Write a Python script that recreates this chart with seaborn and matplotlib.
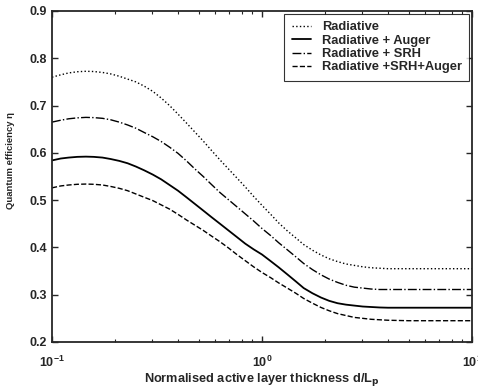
import numpy as np
import pandas as pd
import seaborn as sns
import matplotlib
matplotlib.use("Agg")
import matplotlib.pyplot as plt

# ----- Data (d/Lp on a log axis) -----
thickness = [0.1, 0.11, 0.12, 0.132, 0.145, 0.158, 0.174, 0.19, 0.209, 0.229,
             0.251, 0.275, 0.302, 0.331, 0.363, 0.398, 0.437, 0.479, 0.525, 0.575,
             0.631, 0.692, 0.759, 0.832, 0.912, 1.0, 1.1, 1.2, 1.32, 1.45,
             1.58, 1.74, 1.91, 2.09, 2.29, 2.51, 2.75, 3.02, 3.31, 3.63,
             3.98, 5.0, 6.3, 10.0]

radiative = [0.760, 0.765, 0.769, 0.7715, 0.7725, 0.772, 0.770, 0.767, 0.762, 0.756,
             0.750, 0.741, 0.730, 0.716, 0.700, 0.682, 0.663, 0.644, 0.625, 0.605,
             0.585, 0.566, 0.547, 0.528, 0.508, 0.489, 0.470, 0.452, 0.435, 0.420,
             0.406, 0.394, 0.384, 0.376, 0.370, 0.365, 0.362, 0.359, 0.357, 0.356,
             0.355, 0.355, 0.355, 0.355]

rad_srh = [0.665, 0.669, 0.672, 0.674, 0.675, 0.6745, 0.673, 0.670, 0.665, 0.659,
           0.652, 0.643, 0.634, 0.624, 0.612, 0.599, 0.583, 0.566, 0.550, 0.533,
           0.516, 0.501, 0.486, 0.471, 0.456, 0.440, 0.425, 0.410, 0.395, 0.380,
           0.366, 0.353, 0.342, 0.333, 0.326, 0.320, 0.316, 0.314, 0.312, 0.311,
           0.311, 0.311, 0.311, 0.311]

rad_auger = [0.584, 0.588, 0.590, 0.5915, 0.592, 0.5915, 0.590, 0.587, 0.583, 0.578,
             0.571, 0.563, 0.554, 0.544, 0.532, 0.520, 0.506, 0.492, 0.478, 0.464,
             0.450, 0.436, 0.422, 0.408, 0.396, 0.385, 0.371, 0.358, 0.343, 0.328,
             0.314, 0.303, 0.294, 0.287, 0.282, 0.279, 0.277, 0.275, 0.274, 0.273,
             0.2725, 0.2725, 0.2725, 0.2725]

rad_srh_auger = [0.526, 0.530, 0.532, 0.5335, 0.534, 0.5335, 0.532, 0.529, 0.525, 0.520,
                 0.513, 0.506, 0.499, 0.490, 0.481, 0.470, 0.458, 0.447, 0.436, 0.424,
                 0.412, 0.399, 0.385, 0.372, 0.359, 0.347, 0.336, 0.325, 0.314, 0.303,
                 0.292, 0.282, 0.273, 0.266, 0.260, 0.256, 0.252, 0.250, 0.248, 0.247,
                 0.246, 0.245, 0.245, 0.245]

labels = ["Radiative", "Radiative + Auger", "Radiative + SRH", "Radiative +SRH+Auger"]

# ----- Plot -----
sns.set_style("ticks")
plt.rcParams['font.family'] = ['Liberation Sans', 'DejaVu Sans']
plt.rcParams['font.weight'] = 'bold'
plt.rcParams['mathtext.default'] = 'regular'

fig = plt.figure(figsize=(4.78, 3.87), dpi=100)
ax = fig.add_axes([0.1088, 0.1163, 0.8786, 0.8553])

series = [(radiative, ':', 1.0), (rad_auger, '-', 1.3),
          (rad_srh, '-.', 1.0), (rad_srh_auger, '--', 1.0)]
for (vals, ls, lw), lab in zip(series, labels):
    sns.lineplot(x=thickness, y=vals, ax=ax, color='black', linestyle=ls,
                 linewidth=lw, label=lab)

ax.set_xscale('log')
ax.set_xlim(0.1, 10)
ax.set_ylim(0.2, 0.9)
ax.set_yticks(np.arange(0.2, 0.91, 0.1))
ax.set_yticklabels([f"{v:.1f}" for v in np.arange(0.2, 0.91, 0.1)])

for side in ['top', 'right', 'bottom', 'left']:
    ax.spines[side].set_visible(True)
    ax.spines[side].set_linewidth(1.3)
ax.tick_params(which='both', direction='in', top=True, right=True, labelsize=9)
ax.tick_params(which='major', length=4, width=1)
ax.tick_params(which='minor', length=2.5, width=0.8)
ax.tick_params(axis='x', which='major', pad=9)
for t in ax.get_xticklabels() + ax.get_yticklabels():
    t.set_fontweight('bold')

ax.set_xlabel("Normalised active layer thickness d/L$_\\mathbf{p}$", fontsize=9.2,
              fontweight='bold', labelpad=1)
ax.set_ylabel("Quantum efficiency η", fontsize=6.8, fontweight='bold')
ax.yaxis.set_label_coords(-0.088, 0.547)

leg = ax.legend(loc='upper right', frameon=True, fancybox=False,
                edgecolor='black', handlelength=1.5, handletextpad=0.8,
                borderaxespad=0.2, borderpad=0.6, labelspacing=0.1,
                prop={'weight': 'bold', 'size': 9.3})
leg.get_frame().set_linewidth(0.8)

fig.savefig("out.png", dpi=100)
